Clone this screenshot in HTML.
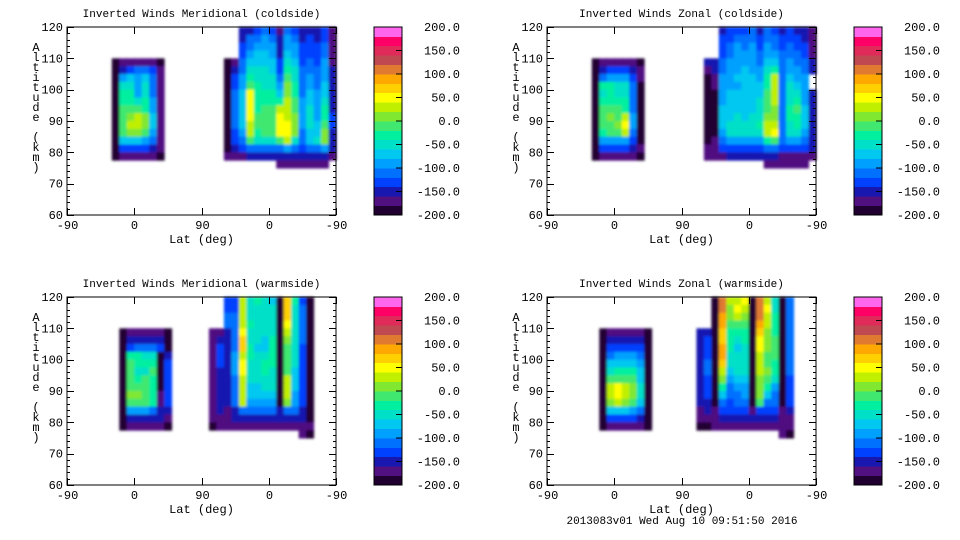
<!DOCTYPE html>
<html><head><meta charset="utf-8"><style>
html,body{margin:0;padding:0;background:#fff;}
svg{display:block;font-family:"Liberation Mono",monospace;}
</style></head><body>
<svg id="root" width="960" height="540" viewBox="0 0 960 540">
<defs><filter id="soft" x="-5%" y="-5%" width="110%" height="110%"><feGaussianBlur stdDeviation="1.2"/></filter></defs>
</svg>
<script>
// ---------- data ----------
const panelTitles = ["Inverted Winds Meridional (coldside)","Inverted Winds Zonal (coldside)","Inverted Winds Meridional (warmside)","Inverted Winds Zonal (warmside)"];
const xTickLabels = ["-90","0","90","0","-90"];
const yTickValues = [60,70,80,90,100,110,120];
const cbarTickValues = [-200,-150,-100,-50,0,50,100,150,200];
const bandColors = ["#200030","#501080","#1818b0","#0040ff","#0070ff","#00a0ff","#00c8f0","#00e0c8","#00f0a0","#40e870","#80e830","#c0f000","#ffff00","#ffd000","#ffa800","#e07a30","#c04850","#e02a5a","#ff0066","#ff66ee"];
const footerText = "2013083v01 Wed Aug 10 09:51:50 2016";
// Grid: columns are 10-degree steps along the axis (col c spans c*10..c*10+10 of 0..360),
// rows are 2.5 km steps from 120 km downward (row r spans 120-2.5r .. 117.5-2.5r).
const tlRegions = [
 {c0:6,r0:4,vals:[
  [-190,-180,-180,-180,-180,-180,-190],
  [-190,-150,-130,-120,-120,-140,-180],
  [-190,-100,-80,-90,-80,-120,-180],
  [-190,-60,-50,-90,-60,-110,-180],
  [-190,-40,-40,-90,-50,-110,-180],
  [-190,-30,-30,-60,-40,-100,-180],
  [-190,-20,-20,-20,-30,-90,-180],
  [-190,-10,10,20,0,-80,-180],
  [-190,-10,20,30,10,-80,-180],
  [-190,-20,0,10,-20,-90,-180],
  [-190,-80,-80,-80,-90,-120,-180],
  [-190,-140,-140,-140,-140,-150,-180],
  [-190,-180,-180,-180,-180,-180,-190]]},
 {c0:21,r0:0,vals:[
  [null,null,-160,-150,-130,-110,-140,-170,-120,-130,-160,-150,-160,-140,-180],
  [null,null,-150,-120,-110,-100,-120,-160,-100,-110,-150,-140,-150,-130,-180],
  [null,null,-140,-110,-90,-90,-100,-160,-90,-100,-140,-140,-140,-120,-170],
  [null,null,-130,-100,-80,-80,-90,-150,-80,-90,-130,-130,-130,-110,-170],
  [-190,-170,-120,-80,-70,-70,-80,-140,-60,-70,-130,-120,-130,-100,-170],
  [-200,-150,-110,-60,-60,-60,-70,-130,-40,-60,-120,-110,-120,-100,-160],
  [-200,-140,-100,-40,-50,-50,-60,-120,-20,-50,-120,-100,-120,-90,-160],
  [-200,-130,-90,-10,-40,-50,-50,-100,0,-40,-110,-90,-110,-80,-150],
  [-200,-120,-80,40,-40,-40,-40,-80,10,-30,-110,-80,-100,-70,-150],
  [-200,-120,-80,50,-30,-30,-30,-40,20,-20,-100,-70,-90,-60,-150],
  [-200,-110,-70,50,-30,-20,-20,20,30,-10,-100,-60,-90,-40,-150],
  [-200,-110,-70,40,-20,-10,-10,40,30,0,-100,-60,-90,-30,-140],
  [-200,-120,-80,30,-20,-10,-10,50,40,10,-100,-60,-80,-10,-140],
  [-200,-130,-90,20,-30,-20,-20,50,40,0,-110,-70,-80,10,-150],
  [-200,-140,-110,-20,-60,-60,-60,-10,20,-60,-110,-70,-60,0,-150],
  [-190,-160,-140,-110,-120,-120,-120,-110,-100,-110,-130,-110,-110,-100,-160],
  [-180,-180,-170,-160,-160,-160,-160,-160,-160,-160,-160,-160,-160,-160,-170],
  [null,null,null,null,null,null,null,-180,-180,-180,-180,-180,-180,-180,null]]}
];
const trRegions = [
 {c0:6,r0:4,vals:[
  [-190,-180,-180,-180,-180,-180,-190],
  [-190,-150,-140,-140,-140,-150,-180],
  [-190,-120,-100,-100,-100,-130,-180],
  [-190,-40,-30,-60,-60,-110,-190],
  [-190,-50,-40,-60,-50,-110,-190],
  [-190,-40,-30,-30,-40,-110,-190],
  [-190,-20,-10,-20,-40,-110,-190],
  [-190,-20,0,-10,20,-100,-190],
  [-190,-20,-10,0,40,-100,-190],
  [-190,-30,-20,-10,20,-110,-190],
  [-190,-90,-90,-90,-90,-130,-190],
  [-190,-140,-140,-140,-140,-150,-180],
  [-190,-180,-180,-180,-180,-180,-190]]},
 {c0:21,r0:0,vals:[
  [null,null,-150,-140,-140,-130,-120,-150,-120,-130,-150,-140,-150,-160,-180],
  [null,null,-140,-130,-120,-120,-110,-140,-110,-120,-140,-130,-140,-150,-180],
  [null,null,-140,-120,-100,-110,-100,-130,-100,-110,-130,-120,-130,-140,-170],
  [null,null,-130,-110,-90,-100,-90,-120,-90,-100,-120,-110,-120,-130,-170],
  [-160,-150,-120,-100,-90,-90,-90,-110,-70,-70,-110,-100,-110,-120,-160],
  [-170,-160,-110,-100,-90,-80,-90,-100,-60,-40,-110,-90,-100,-110,-160],
  [-190,-170,-100,-90,-80,-70,-80,-90,-40,20,-110,-70,-90,-100,null],
  [-200,-180,-90,-90,-90,-70,-70,-80,-30,30,-120,-60,-80,-100,null],
  [-200,-190,-90,-80,-80,-70,-70,-70,-20,30,-120,-50,-60,-90,-150],
  [-200,-190,-90,-80,-70,-70,-70,-60,-20,20,-120,-50,-30,-90,-150],
  [-200,-190,-80,-80,-70,-70,-70,-60,-10,10,-120,-40,-20,-80,-150],
  [-200,-190,-80,-70,-60,-70,-60,-50,0,0,-120,-40,-30,-80,-150],
  [-200,-190,-80,-60,-60,-60,-50,-40,20,30,-110,-50,-40,-80,-150],
  [-200,-190,-90,-60,-60,-60,-50,-50,30,40,-110,-60,-60,-90,-150],
  [-190,-180,-110,-90,-90,-90,-90,-90,-40,-20,-120,-100,-100,-110,-150],
  [-180,-170,-140,-130,-130,-130,-130,-130,-120,-120,-140,-140,-140,-140,-160],
  [-180,-180,-170,-160,-160,-160,-160,-160,-160,-160,-170,-170,-170,-170,-170],
  [null,null,null,null,null,null,null,null,-180,-180,-180,-180,-180,-180,null]]}
];
const blRegions = [
 {c0:7,r0:4,vals:[
  [-190,-180,-180,-180,-180,-180,-190],
  [-190,-160,-150,-150,-150,-160,-190],
  [-190,-130,-120,-120,-120,-140,-190],
  [-200,-40,-40,-50,-60,-200,-150],
  [-200,-20,-30,-30,-30,-200,-140],
  [-200,-20,-60,-50,-20,-200,-140],
  [-200,-20,-30,-20,-30,-200,-140],
  [-200,-10,-20,-20,-30,-200,-140],
  [-200,0,0,-10,-30,-180,-140],
  [-200,-20,-20,-20,-40,-170,-140],
  [-190,-100,-100,-100,-110,-160,-160],
  [-190,-150,-150,-150,-150,-160,-180],
  [-190,-180,-180,-180,-180,-180,-190]]},
 {c0:19,r0:0,vals:[
  [null,null,-130,-140,30,-60,-40,-60,-70,-200,60,-40,-130,-200],
  [null,null,-130,-130,20,-60,-50,-50,-60,-200,70,-50,-120,-200],
  [null,null,-120,-120,30,-50,-50,-60,-60,-200,60,-60,-120,-200],
  [null,null,-120,-110,20,-40,-50,-60,-60,-200,40,-50,-120,-200],
  [-180,-170,-150,-110,40,-50,-60,-60,-50,-200,20,-60,-120,-200],
  [-180,-150,-160,-120,70,-50,-60,-70,-40,-200,0,-60,-120,-200],
  [-180,-140,-150,-110,60,-40,-70,-70,-40,-200,-20,-60,-130,-200],
  [-180,-140,-150,-100,30,-40,-50,-60,-40,-200,-10,-60,-130,-200],
  [-180,-140,-160,-100,40,-50,-50,-40,-40,-200,-20,-60,-130,-200],
  [-180,-150,-160,-100,40,-50,-50,-40,-50,-200,-10,-70,-130,-200],
  [-180,-150,-160,-110,30,-60,-60,-50,-50,-200,20,-70,-130,-200],
  [-180,-150,-160,-110,20,-70,-70,-60,-60,-200,30,-80,-130,-200],
  [-180,-150,-160,-110,20,-80,-80,-80,-80,-200,20,-90,-130,-200],
  [-180,-150,-160,-120,20,-90,-90,-90,-90,-200,0,-100,-140,-200],
  [-180,-160,-170,-150,-120,-120,-120,-120,-120,-150,-120,-120,-150,-200],
  [-180,-170,-170,-160,-150,-150,-150,-150,-150,-160,-150,-150,-160,-190],
  [-190,-180,-180,-180,-170,-170,-170,-170,-170,-170,-170,-170,-170,-180],
  [null,null,null,null,null,null,null,null,null,null,null,null,-180,-190]]}
];
const brRegions = [
 {c0:7,r0:4,vals:[
  [-190,-180,-180,-180,-180,-180,-190],
  [-190,-160,-150,-150,-150,-160,-190],
  [-190,-140,-130,-130,-130,-140,-190],
  [-190,-110,-100,-100,-100,-120,-190],
  [-190,-80,-70,-70,-70,-100,-190],
  [-190,-50,-40,-40,-40,-80,-190],
  [-200,-10,-10,-10,-20,-70,-200],
  [-200,20,40,30,0,-60,-200],
  [-200,20,40,30,10,-60,-200],
  [-200,10,20,10,-10,-70,-200],
  [-200,-70,-70,-80,-90,-110,-200],
  [-190,-140,-140,-140,-140,-150,-190],
  [-190,-180,-180,-180,-180,-180,-190]]},
 {c0:20,r0:0,vals:[
  [null,null,-200,110,20,30,40,-200,100,20,-60,-200,-110],
  [null,null,-200,100,10,40,30,-200,110,40,-50,-200,-110],
  [null,null,-200,90,0,20,0,-200,110,30,-40,-200,-110],
  [null,null,-200,80,-20,-20,-20,-200,90,20,-40,-200,-110],
  [-160,-150,-200,60,-30,-40,-30,-200,60,10,-30,-200,-120],
  [-150,-140,-200,70,-40,-60,-40,-200,40,0,-20,-200,-120],
  [-150,-130,-200,90,-40,-80,-60,-200,40,10,-10,-200,-120],
  [-150,-130,-200,80,-50,-60,-60,-200,30,-10,-20,-200,-120],
  [-150,-120,-200,60,-60,-60,-50,-200,30,-10,-30,-200,-120],
  [-150,-120,-200,30,-80,-60,-60,-200,20,0,-40,-200,-120],
  [-150,-130,-200,0,-100,-80,-80,-200,10,-10,-60,-200,-130],
  [-150,-130,-200,-40,-120,-100,-90,-200,0,-40,-90,-200,-130],
  [-150,-140,-200,-80,-120,-110,-100,-200,0,-80,-110,-200,-130],
  [-160,-150,-200,-110,-130,-120,-120,-200,-20,-110,-120,-200,-140],
  [-170,-160,-180,-140,-140,-140,-140,-170,-130,-140,-140,-180,-150],
  [-180,-170,-170,-160,-160,-160,-160,-160,-160,-160,-160,-170,-170],
  [-190,-190,-180,-180,-180,-180,-180,-180,-180,-180,-180,-180,-180],
  [null,null,null,null,null,null,null,null,null,null,null,-180,-190]]}
];
const panelRegions = [tlRegions,trRegions,blRegions,brRegions];

// ---------- drawing ----------
const NS="http://www.w3.org/2000/svg";
const root=document.getElementById('root');
function mk(tag,attrs,parent){const e=document.createElementNS(NS,tag);for(const k in attrs)e.setAttribute(k,attrs[k]);(parent||root).appendChild(e);return e;}
function bandColor(v){let i=Math.floor((v+200)/20);if(i<0)i=0;if(i>19)i=19;return bandColors[i];}

const offsets=[[0,0],[480,0],[0,270],[480,270]];
offsets.forEach((off,p)=>{
  const X0=67+off[0],X1=336+off[0],Y0=27+off[1],Y1=215+off[1];
  const xScale=u=>X0+u*(X1-X0)/360;
  const yScale=a=>Y0+(120-a)*(Y1-Y0)/60;
  const g=mk('g',{});
  
  
  const cells=mk('g',{filter:'url(#soft)'},g);
  
  
  panelRegions[p].forEach(reg=>{
    reg.vals.forEach((row,ri)=>{
      row.forEach((v,ci)=>{
        if(v===null)return;
        const c=reg.c0+ci,r=reg.r0+ri;
        const x=xScale(c*10),x2=xScale(c*10+10);
        const y=yScale(120-r*2.5),y2=yScale(117.5-r*2.5);
        const rc=mk('rect',{x:x.toFixed(2),y:y.toFixed(2),width:(x2-x+0.5).toFixed(2),height:(y2-y+0.5).toFixed(2),fill:bandColor(v)},cells);
        
        
      });
    });
  });
  const fr=mk('rect',{x:X0,y:Y0,width:X1-X0,height:Y1-Y0,fill:'none',stroke:'#000','stroke-width':1,'shape-rendering':'crispEdges'},g);
  
  
  for(let a=60;a<=120;a+=2){
    const y=Math.round(yScale(a))+0.5;const len=(a%10===0)?7:3;
    mk('line',{x1:X0,x2:X0+len,y1:y,y2:y,stroke:'#000'},g);
    mk('line',{x1:X1,x2:X1-len,y1:y,y2:y,stroke:'#000'},g);
  }
  yTickValues.forEach(a=>{
    const t=mk('text',{x:X0-4,y:yScale(a)+4,'text-anchor':'end','font-size':12},g);t.textContent=a;
    
    
  });
  xTickLabels.forEach((lab,i)=>{
    const x=Math.round(xScale(i*90))+0.5;
    mk('line',{x1:x,x2:x,y1:Y1,y2:Y1-7,stroke:'#000'},g);
    mk('line',{x1:x,x2:x,y1:Y0,y2:Y0+7,stroke:'#000'},g);
    const t=mk('text',{x:x,y:Y1+14,'text-anchor':'middle','font-size':12},g);t.textContent=lab;
    
    
  });
  const xt=mk('text',{x:(X0+X1)/2,y:Y1+28,'text-anchor':'middle','font-size':12},g);xt.textContent='Lat (deg)';
  
  
  const tt=mk('text',{x:(X0+X1)/2,y:Y0-10,'text-anchor':'middle','font-size':11},g);tt.textContent=panelTitles[p];
  
  
  const yt=mk('text',{x:off[0]+36,y:Y0+24,'font-size':12,'text-anchor':'middle'},g);
  
  
  "Altitude (km)".split('').forEach((ch,i)=>{const s=mk('tspan',{x:off[0]+36,y:Y0+24+i*10},yt);s.textContent=ch;});
  const CX=374+off[0],CW=28;
  const cb=mk('g',{'shape-rendering':'crispEdges'},g);
  
  
  bandColors.forEach((c,i)=>{
    const yb=Y1-(i+1)*(Y1-Y0)/20;
    mk('rect',{x:CX,y:yb.toFixed(2),width:CW,height:((Y1-Y0)/20+0.4).toFixed(2),fill:c},cb);
  });
  mk('rect',{x:CX,y:Y0,width:CW,height:Y1-Y0,fill:'none',stroke:'#000'},cb);
  cbarTickValues.forEach(v=>{
    const y=Y1-(v+200)/400*(Y1-Y0);
    mk('line',{x1:CX+CW-6,x2:CX+CW,y1:y,y2:y,stroke:'#000'},cb);
    const t=mk('text',{x:460+off[0],y:y+4,'text-anchor':'end','font-size':12},g);t.textContent=v.toFixed(1);
    
    
  });
});
const ft=mk('text',{x:682,y:524,'text-anchor':'middle','font-size':11});ft.textContent=footerText;


</script>
</body></html>
